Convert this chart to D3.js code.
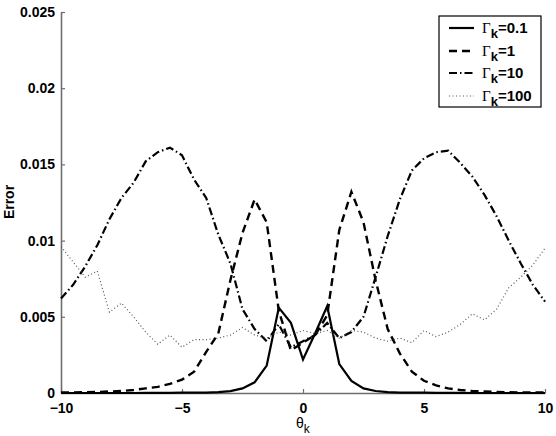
<!DOCTYPE html>
<html><head><meta charset="utf-8">
<script src="https://cdn.jsdelivr.net/npm/d3@7"></script>
<style>
html,body{margin:0;padding:0;background:#fff;}
svg text{font-family:"Liberation Sans",Arial,sans-serif;}
</style></head>
<body><svg id="c" width="556" height="436"></svg>
<script>
const theta = [-10,-9.5,-9,-8.5,-8,-7.5,-7,-6.5,-6,-5.5,-5,-4.5,-4,-3.5,-3,-2.5,-2,-1.5,-1,-0.5,0,0.5,1,1.5,2,2.5,3,3.5,4,4.5,5,5.5,6,6.5,7,7.5,8,8.5,9,9.5,10];
const g01 = [0,0,0,0,0,0,0,0.00001,0.00001,0.00001,0.00002,0.00002,0.00003,0.00006,0.00012,0.0003,0.0007,0.0018,0.0056,0.0046,0.0022,0.0039,0.0057,0.0019,0.0008,0.0003,0.00013,0.00006,0.00003,0.00002,0.00002,0.00001,0.00001,0.00001,0,0,0,0,0,0,0];
const g1 = [0.00003,0.00004,0.00005,0.00007,0.0001,0.00013,0.0002,0.0003,0.0004,0.0006,0.00088,0.0014,0.0027,0.0039,0.0074,0.0105,0.0127,0.0112,0.0054,0.0028,0.0033,0.0038,0.0051,0.0107,0.0132,0.0112,0.0074,0.0042,0.0026,0.0014,0.0008,0.0005,0.0003,0.0002,0.00013,0.0001,0.00007,0.00005,0.00004,0.00003,0.00003];
const g10 = [0.0062,0.0071,0.0083,0.0097,0.0114,0.0128,0.0138,0.0152,0.0158,0.0161,0.0156,0.0140,0.0128,0.0104,0.0085,0.0055,0.0042,0.0034,0.0045,0.0030,0.0034,0.0038,0.0046,0.0036,0.0040,0.0050,0.0076,0.0103,0.0127,0.0146,0.0154,0.0158,0.0159,0.0151,0.0142,0.0130,0.0116,0.0100,0.0085,0.0071,0.0060];
const g100 = [0.0096,0.0086,0.0076,0.0080,0.0053,0.0059,0.0050,0.0040,0.0032,0.0038,0.0030,0.0035,0.0035,0.0036,0.0038,0.0043,0.0038,0.0036,0.0040,0.0038,0.0041,0.0039,0.0041,0.0036,0.0041,0.0040,0.0036,0.0034,0.0036,0.0033,0.0041,0.0037,0.0040,0.0045,0.0052,0.0048,0.0055,0.0069,0.0076,0.0084,0.0095];
const seriesNames = ["0.1","1","10","100"];
const xTicks = [-10,-5,0,5,10];
const xTickLabels = ["\u221210","\u22125","0","5","10"];
const yTicks = [0,0.005,0.01,0.015,0.02,0.025];
const yTickLabels = ["0","0.005","0.01","0.015","0.02","0.025"];

const svg = d3.select("#c");
const x = d3.scaleLinear().domain([-10,10]).range([61,545]);
const y = d3.scaleLinear().domain([0,0.025]).range([393,12]);

const axisColor = "#6e6e6e";
const gx = svg.append("g").attr("transform","translate(0,393)")
  .call(d3.axisBottom(x).tickValues(xTicks).tickFormat((d,i)=>xTickLabels[i]).tickSizeInner(-4).tickSizeOuter(0).tickPadding(10));
const gy = svg.append("g").attr("transform","translate(61,0)")
  .call(d3.axisLeft(y).tickValues(yTicks).tickFormat((d,i)=>yTickLabels[i]).tickSizeInner(-4).tickSizeOuter(0).tickPadding(6));
[gx,gy].forEach(g=>{
  g.select(".domain").attr("stroke",axisColor).attr("stroke-width",1.6);
  g.selectAll(".tick line").attr("stroke",axisColor).attr("stroke-width",1.2);
  g.selectAll(".tick text").attr("fill","#000").style("font-size","14px").style("font-weight","bold");
});

const styles = [
  {data:g01, dash:null, w:2.2, c:"#000"},
  {data:g1, dash:"8,5", w:2.4, c:"#000"},
  {data:g10, dash:"8,3,1.5,3", w:2.2, c:"#000"},
  {data:g100, dash:"1,2.5", w:1.2, c:"#555"}
];
const line = d3.line().x((d,i)=>x(theta[i])).y(d=>y(d));
styles.forEach(s=>{
  svg.append("path").attr("d",line(s.data)).attr("fill","none")
    .attr("stroke",s.c).attr("stroke-width",s.w)
    .attr("stroke-dasharray",s.dash).attr("stroke-linejoin","miter");
});

// axis labels
svg.append("text").attr("transform","translate(14,202) rotate(-90)")
  .attr("text-anchor","middle").style("font-size","14px").style("font-weight","bold").text("Error");
const xl = svg.append("text").attr("x",296).attr("y",428).style("font-size","14px");
xl.append("tspan").text("\u03b8");
xl.append("tspan").attr("dy",5).style("font-size","12px").text("k");

// legend
const lg = svg.append("g");
lg.append("rect").attr("x",439).attr("y",16).attr("width",102).attr("height",91)
  .attr("fill","#fff").attr("stroke","#000").attr("stroke-width",1.2);
const rowY = [28,51,73,96];
seriesNames.forEach((n,i)=>{
  const s = styles[i];
  lg.append("line").attr("x1",449).attr("x2",474).attr("y1",rowY[i]).attr("y2",rowY[i])
    .attr("stroke",s.c).attr("stroke-width",s.w).attr("stroke-dasharray",s.dash);
  const t = lg.append("text").attr("x",482).attr("y",rowY[i]+5).style("font-size","15px");
  t.append("tspan").style("font-family","'Liberation Serif','DejaVu Serif',serif").text("\u0393");
  t.append("tspan").attr("dy",5).style("font-size","13px").style("font-weight","bold").text("k");
  t.append("tspan").attr("dy",-5).style("font-size","15px").style("font-weight","bold").text("="+n);
});
</script></body></html>
